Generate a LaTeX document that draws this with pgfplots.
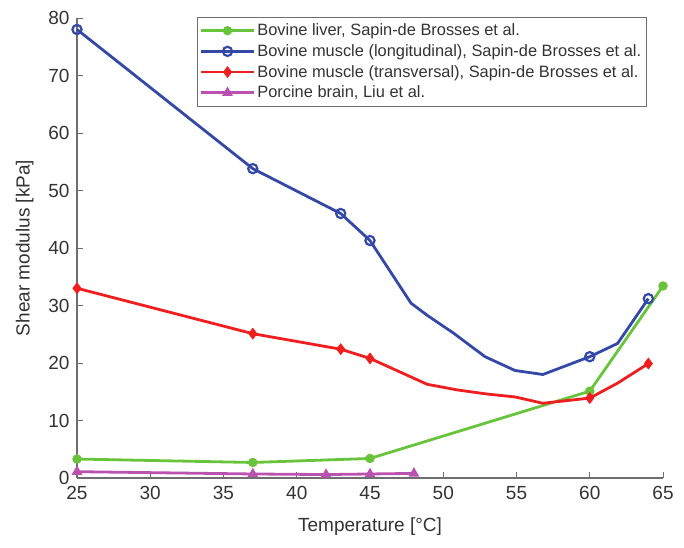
\documentclass[border=0pt]{standalone}
\usepackage{pgfplots}
\pgfplotsset{compat=1.18}
\usepackage{fontspec}
\setmainfont{Liberation Sans}
\definecolor{cgreen}{RGB}{104,196,58}
\definecolor{cblue}{RGB}{52,72,168}
\definecolor{cred}{RGB}{240,30,30}
\definecolor{cpink}{RGB}{188,82,176}
\definecolor{caxis}{RGB}{110,110,110}
\begin{document}
\begin{tikzpicture}
\begin{axis}[
  scale only axis,
  width=586pt, height=460pt,
  xmin=25, xmax=65, ymin=0, ymax=80,
  xtick={25,30,...,65}, ytick={0,10,...,80},
  axis lines=left,
  axis line style={-, caxis, line width=1.2pt},
  tick style={caxis, line width=1pt},
  tick align=inside,
  major tick length=6pt,
  enlargelimits=false,
  clip=false,
  ticklabel style={font=\fontsize{19}{22}\selectfont, text=black!80},
  xticklabel style={yshift=-5pt},
  yticklabel style={xshift=-4pt},
  /pgf/number format/assume math mode=true,
  xlabel={Temperature [°C]},
  ylabel={Shear modulus [kPa]},
  label style={font=\fontsize{19}{22}\selectfont, text=black!80},
  xlabel style={yshift=-11pt},
  ylabel style={yshift=8pt},
  legend style={at={(rel axis cs:0.204,1.002)}, anchor=north west,
    draw=caxis, line width=0.8pt, font=\fontsize{16.4}{19}\selectfont,
    text=black!80, inner xsep=3pt, inner ysep=4.5pt, row sep=3.3pt},
  legend cell align=left,
  legend image code/.code={
    \draw[#1, mark=none, line width=2.8pt] (0cm,0cm) -- (1.85cm,0cm);
    \draw[#1, only marks] plot coordinates {(0.92cm,0cm)};
  },
]
\addplot[cgreen, line width=2.8pt, mark=*, mark size=4.2pt, mark options={fill=cgreen, line width=1pt}]
 coordinates {(25,3.3) (37,2.7) (45,3.4) (60,15.1) (65,33.4)};
\addlegendentry{Bovine liver, Sapin-de Brosses et al.}
\addplot[cblue, line width=2.8pt, mark=o, mark size=4.6pt, mark options={line width=2.2pt}, mark indices={1,2,3,4,11,13}]
 coordinates {(25,78) (37,53.8) (43,46.0) (45,41.3) (47.8,30.4) (48.9,28.3) (50.7,25.2) (52.85,21.1) (54.9,18.7) (56.8,18.0) (60,21.1) (61.9,23.4) (64,31.2)};
\addlegendentry{Bovine muscle (longitudinal), Sapin-de Brosses et al.}
\addplot[cred, line width=2.8pt, mark=diamond*, mark size=5.2pt, mark options={fill=cred, line width=1pt}, mark indices={1,2,3,4,10,12}]
 coordinates {(25,33.0) (37,25.1) (43,22.4) (45,20.8) (48.9,16.3) (51,15.3) (53,14.6) (54.9,14.1) (56.8,13.0) (60,13.9) (61.9,16.5) (64,19.9)};
\addlegendentry{Bovine muscle (transversal), Sapin-de Brosses et al.}
\addplot[cpink, line width=2.8pt, mark=triangle*, mark size=5.2pt, mark options={fill=cpink, line width=1pt}]
 coordinates {(25,1.1) (37,0.7) (42,0.6) (45,0.7) (48,0.8)};
\addlegendentry{Porcine brain, Liu et al.}
\end{axis}
\path[use as bounding box] (current axis.south west) ++(-77pt,-69pt) rectangle ++(684pt,547pt);
\end{tikzpicture}
\end{document}
